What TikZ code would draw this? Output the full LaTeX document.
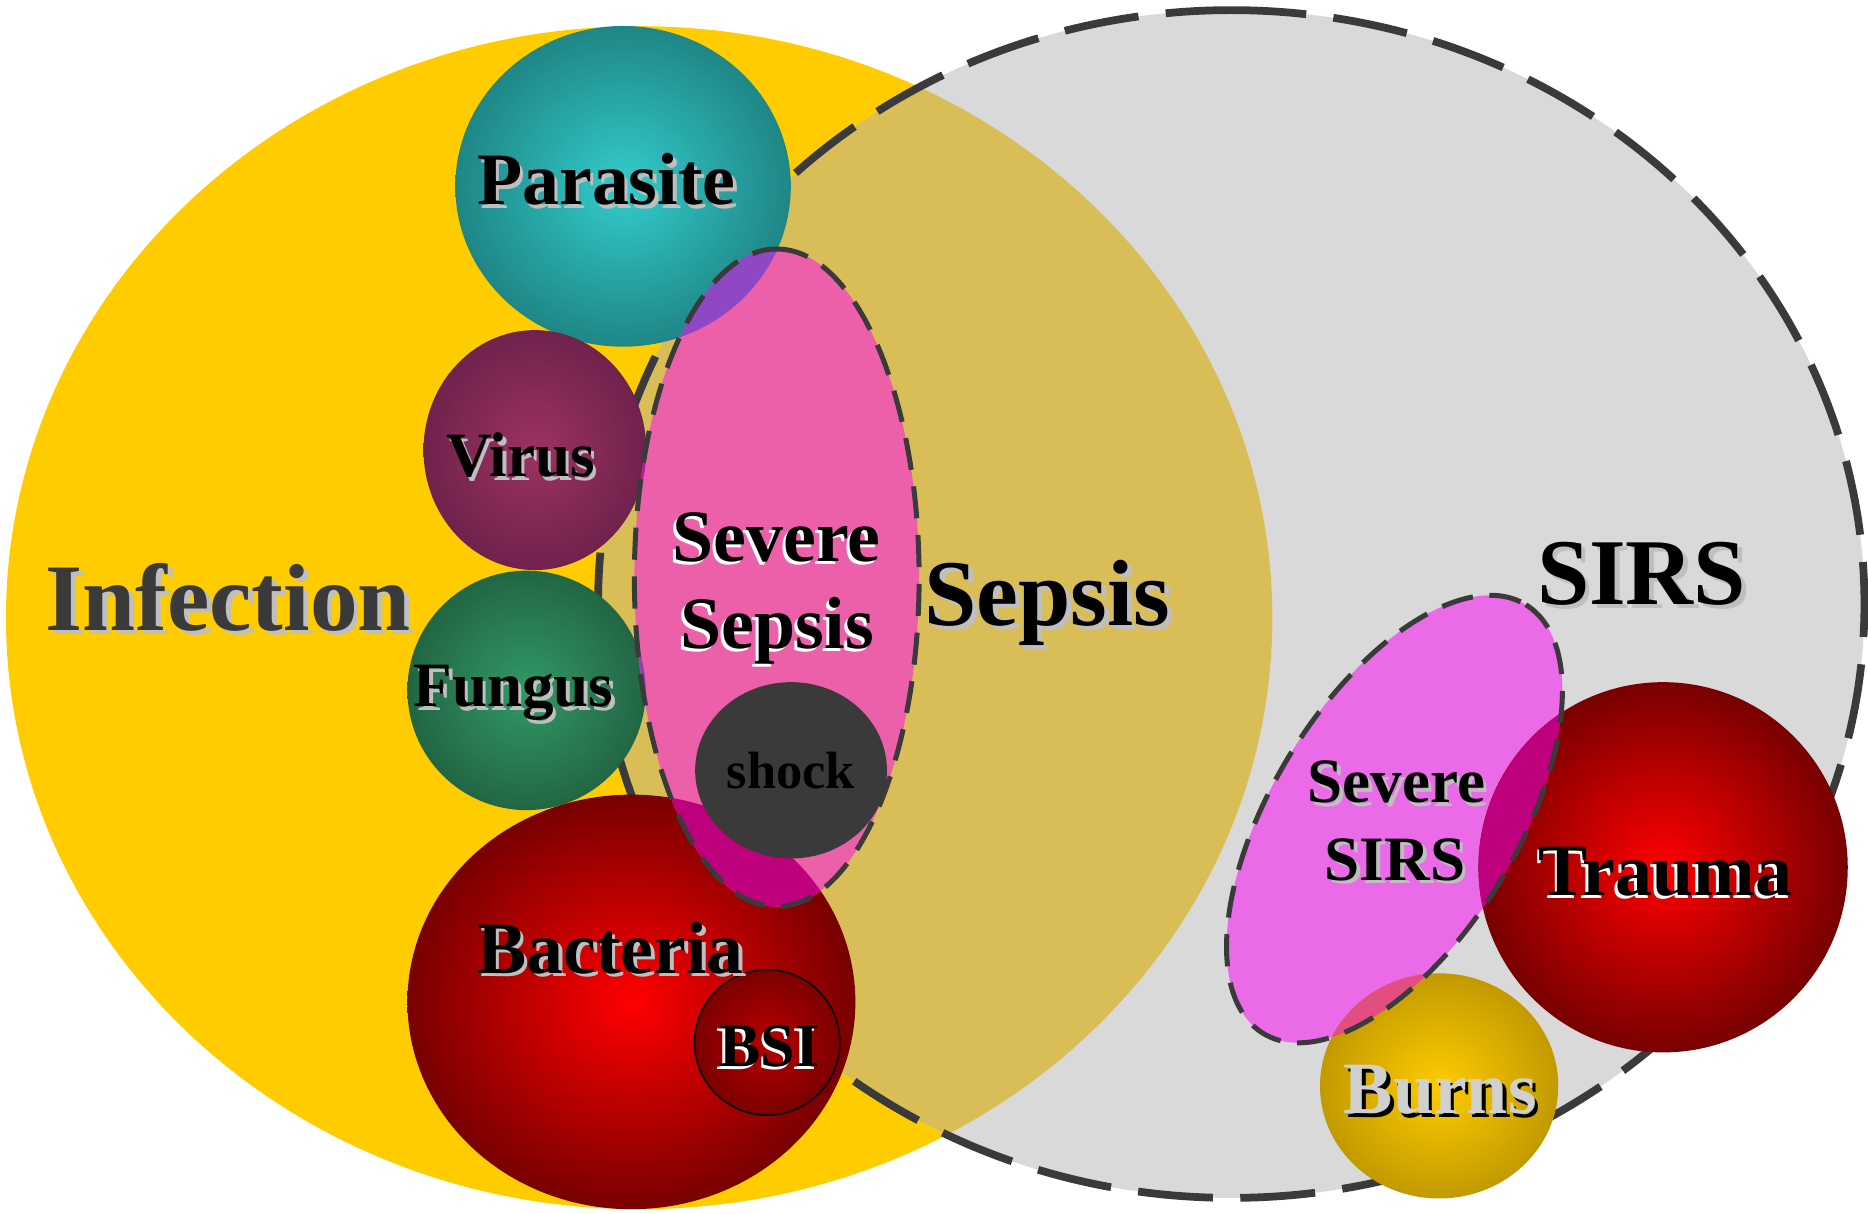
\documentclass[tikz,border=0pt]{standalone}
\usepackage{fontspec}
\setmainfont{Liberation Serif}
\definecolor{infyellow}{HTML}{FFCC00}
\definecolor{sirsgray}{HTML}{D9D9D9}
\definecolor{septan}{HTML}{D9BE58}
\definecolor{dashgray}{HTML}{3A3A3A}
\definecolor{sevpink}{HTML}{EC5FA9}
\definecolor{sirspink}{HTML}{EA6AE8}
\definecolor{cyanin}{HTML}{33CCCC}
\definecolor{cyanout}{HTML}{1F8686}
\definecolor{virin}{HTML}{9C3262}
\definecolor{virout}{HTML}{70224C}
\definecolor{funin}{HTML}{319966}
\definecolor{funout}{HTML}{226644}
\definecolor{redin}{HTML}{FF0000}
\definecolor{redout}{HTML}{780000}
\definecolor{burnin}{HTML}{FFCC00}
\definecolor{burnout}{HTML}{C29A00}
\definecolor{bsiin}{HTML}{B80000}
\definecolor{bsiout}{HTML}{7C0000}
\definecolor{shockgray}{HTML}{3A3A3A}
\definecolor{ovpurple}{HTML}{8E48C4}
\definecolor{ovvirus}{HTML}{BE14A8}
\definecolor{ovfungus}{HTML}{9440AE}
\definecolor{ovmagenta}{HTML}{BE007C}
\definecolor{ovburn}{HTML}{E24E82}
\definecolor{shadowgray}{HTML}{BFBFBF}
\definecolor{infetext}{HTML}{3A3A3A}
\definecolor{burntext}{HTML}{D0D0D0}
\newcommand\shlabel[9]{%
  \node[lbl,text=#6,font=\fontsize{#4}{#4}\selectfont\bfseries,shift={(#7,#8)}] (#1-shadow) at (#2,#3) {#9};
  \node[lbl,text=#5,font=\fontsize{#4}{#4}\selectfont\bfseries] (#1) at (#2,#3) {#9};
}
\begin{document}
\begin{tikzpicture}[x=1pt,y=-1pt,
  lbl/.style={inner sep=0pt,outer sep=0pt,anchor=base},
  bigdash/.style={draw=dashgray,line width=6.5pt,dash pattern=on 63pt off 23pt},
  smalldash/.style={draw=dashgray,line width=4.2pt,dash pattern=on 27pt off 14pt}
]
\useasboundingbox (0,0) rectangle (1568,1019);

% Infection and SIRS
\fill[infyellow] (536.5,518.5) ellipse [x radius=531.5, y radius=496.5];
\fill[sirsgray] (1033.5,507) ellipse [x radius=531.5, y radius=498.5];
\begin{scope}
  \clip (536.5,518.5) ellipse [x radius=531.5, y radius=496.5];
  \fill[septan] (1033.5,507) ellipse [x radius=531.5, y radius=498.5];
\end{scope}
\draw[bigdash] (1033.5,8.5) arc [start angle=-90, end angle=270, x radius=531.5, y radius=498.5];

% Pathogen circles
\shade[inner color=cyanin, outer color=cyanout] (523,156.4) ellipse [x radius=140.8, y radius=134.6];
\shade[inner color=virin, outer color=virout] (449,377.8) ellipse [x radius=93.5, y radius=100.7];
\shade[inner color=funin, outer color=funout] (442,579.5) ellipse [x radius=100, y radius=100.5];
\shade[inner color=redin, outer color=redout] (530,841) ellipse [x radius=188, y radius=174];

% Severe Sepsis
\fill[sevpink] (652,485) ellipse [x radius=119.5, y radius=276];
\begin{scope}
  \clip (523,156.4) ellipse [x radius=140.8, y radius=134.6];
  \fill[ovpurple] (652,485) ellipse [x radius=119.5, y radius=276];
\end{scope}
\begin{scope}
  \clip (449,377.8) ellipse [x radius=93.5, y radius=100.7];
  \fill[ovvirus] (652,485) ellipse [x radius=119.5, y radius=276];
\end{scope}
\begin{scope}
  \clip (442,579.5) ellipse [x radius=100, y radius=100.5];
  \fill[ovfungus] (652,485) ellipse [x radius=119.5, y radius=276];
\end{scope}
\begin{scope}
  \clip (530,841) ellipse [x radius=188, y radius=174];
  \fill[ovmagenta] (652,485) ellipse [x radius=119.5, y radius=276];
\end{scope}
\fill[shockgray] (664,646.6) ellipse [x radius=80.5, y radius=74];
\draw[smalldash] (652,209) arc [start angle=-90, end angle=270, x radius=119.5, y radius=276];

% BSI
\shade[inner color=bsiin, outer color=bsiout] (644,875) circle [radius=61];
\draw[black,line width=1.3pt] (644,875) circle [radius=61];

% Severe SIRS, Trauma, Burns
\fill[sirspink,rotate around={58.5:(1170.5,687.5)}] (1170.5,687.5) ellipse [x radius=211, y radius=103];
\shade[inner color=redin, outer color=redout] (1396,728) ellipse [x radius=155, y radius=155.4];
\shade[inner color=burnin, outer color=burnout] (1208,911.5) ellipse [x radius=100, y radius=94.5];
\begin{scope}
  \clip (1396,728) ellipse [x radius=155, y radius=155.4];
  \fill[ovmagenta,rotate around={58.5:(1170.5,687.5)}] (1170.5,687.5) ellipse [x radius=211, y radius=103];
\end{scope}
\begin{scope}
  \clip (1208,911.5) ellipse [x radius=100, y radius=94.5];
  \fill[ovburn,rotate around={58.5:(1170.5,687.5)}] (1170.5,687.5) ellipse [x radius=211, y radius=103];
\end{scope}
\draw[smalldash,rotate around={58.5:(1170.5,687.5)}] (1170.5,687.5) ellipse [x radius=211, y radius=103];

% Labels
\shlabel{infection}{191.5}{529}{80}{infetext}{shadowgray}{4}{3.5}{Infection}
\shlabel{parasite}{509}{172}{62}{black}{shadowgray}{3}{3}{Parasite}
\shlabel{virus}{437}{400}{53}{black}{shadowgray}{3}{3}{Virus}
\shlabel{fungus}{431}{593}{53}{black}{shadowgray}{3}{3}{Fungus}
\shlabel{bacteria}{512.5}{817}{62}{black}{shadowgray}{3}{3}{Bacteria}
\shlabel{bsi}{646}{895}{52}{black}{white}{-2.5}{2.5}{BSI}
\shlabel{severe1}{652}{471.5}{62}{black}{white}{-2.5}{2.5}{Severe}
\shlabel{sepsis1}{652.5}{544}{62}{black}{white}{-2.5}{2.5}{Sepsis}
\node[lbl,text=black,font=\fontsize{44}{44}\selectfont\bfseries] (shock) at (664,662) {shock};
\shlabel{sepsis}{879}{525}{79}{black}{shadowgray}{4}{3.5}{Sepsis}
\shlabel{sirs}{1378}{507}{79}{black}{shadowgray}{4}{3.5}{SIRS}
\shlabel{severe2}{1172}{674}{53}{black}{shadowgray}{3}{3}{Severe}
\shlabel{sirs2}{1171}{739}{53}{black}{shadowgray}{3}{3}{SIRS}
\shlabel{trauma}{1398}{752}{62}{black}{white}{-2.5}{2.5}{Trauma}
\shlabel{burns}{1209}{935}{62}{burntext}{black}{3}{3}{Burns}
\end{tikzpicture}
\end{document}
